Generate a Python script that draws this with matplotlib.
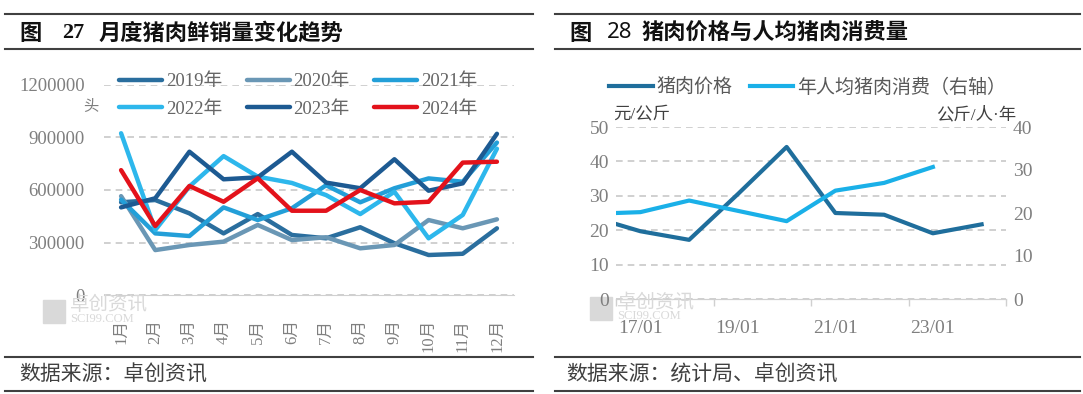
import matplotlib.pyplot as plt
from matplotlib.lines import Line2D
from matplotlib.patches import Rectangle

plt.rcParams['font.family'] = ['Liberation Serif', 'Noto Sans CJK SC']

# 图27 月度猪肉鲜销量（头）
months = ['1月', '2月', '3月', '4月', '5月', '6月', '7月', '8月', '9月', '10月', '11月', '12月']
sales_2019 = [530000, 543000, 467000, 353000, 463000, 344000, 325000, 388000, 297000, 230000, 237000, 382000]
sales_2020 = [565000, 258000, 287000, 306000, 401000, 315000, 331000, 268000, 287000, 429000, 382000, 433000]
sales_2021 = [545000, 353000, 338000, 501000, 429000, 496000, 627000, 530000, 610000, 666000, 647000, 870000]
sales_2022 = [923000, 372000, 620000, 793000, 676000, 640000, 571000, 463000, 590000, 325000, 458000, 835000]
sales_2023 = [501000, 553000, 818000, 661000, 672000, 818000, 642000, 610000, 775000, 596000, 638000, 920000]
sales_2024 = [713000, 395000, 623000, 533000, 667000, 482000, 482000, 600000, 524000, 533000, 756000, 761000]
year_names = ['2019年', '2020年', '2021年', '2022年', '2023年', '2024年']
year_colors = ['#2A6E9E', '#6A97B5', '#239FD8', '#2DB7EC', '#1D5A92', '#E3121B']

# 图28 猪肉价格与人均猪肉消费量
price_x = [2016.5, 2017, 2018, 2019, 2020, 2021, 2022, 2023, 2024]
price = [21.8, 19.7, 17.2, 30.5, 44.2, 25.0, 24.5, 19.1, 21.7]
consume_x = [2016.5, 2017, 2018, 2019, 2020, 2021, 2022, 2023]
consume = [20.0, 20.2, 22.9, 20.5, 18.1, 25.2, 27.0, 30.7]
date_ticks = [2017, 2019, 2021, 2023]
date_labels = ['17/01', '19/01', '21/01', '23/01']

W, H = 1083, 394
fig = plt.figure(figsize=(W / 100, H / 100), dpi=100)


def fx(px):
    return px / W


def fy(py):
    return 1 - py / H


def hline(x0, x1, y, lw=1.5):
    fig.add_artist(Line2D([fx(x0), fx(x1)], [fy(y), fy(y)], transform=fig.transFigure,
                          color='#404040', lw=lw))


grid_kw = dict(color='#c8c8c8', lw=1.2, ls=(0, (4, 3)))
tick_grey = '#7f7f7f'

# ---------- left chart ----------
ax1 = fig.add_axes([fx(104), fy(295.4), fx(514) - fx(104), fy(84.6) - fy(295.4)])
series = [sales_2019, sales_2020, sales_2021, sales_2022, sales_2023, sales_2024]
xs = list(range(1, 13))
handles = []
for vals, name, c in zip(series, year_names, year_colors):
    h, = ax1.plot(xs, vals, color=c, lw=3.2, solid_joinstyle='round', solid_capstyle='round', label=name)
    handles.append(h)
ax1.set_xlim(0.5, 12.5)
ax1.set_ylim(0, 1200000)
ax1.set_yticks([0, 300000, 600000, 900000, 1200000])
ax1.set_yticklabels(['0', '300000', '600000', '900000', '1200000'])
ax1.set_xticks(xs)
ax1.set_xticklabels(months, rotation=90)
ax1.yaxis.grid(True, **grid_kw)
ax1.set_axisbelow(True)
for s in ['top', 'right', 'left']:
    ax1.spines[s].set_visible(False)
ax1.spines['bottom'].set_color('#d0d0d0')
ax1.tick_params(axis='y', length=0, labelcolor=tick_grey, labelsize=13.5, pad=14)
ax1.tick_params(axis='x', length=0, labelcolor=tick_grey, labelsize=12, pad=17)

order = [0, 3, 1, 4, 2, 5]
ax1.legend([handles[i] for i in order], [year_names[i] for i in order], ncol=3,
           loc='upper left', bbox_to_anchor=(fx(119), fy(73)), bbox_transform=fig.transFigure,
           frameon=False, fontsize=13.5, labelcolor='#666666', handlelength=2.3,
           handletextpad=0.2, columnspacing=1.3, labelspacing=0.55, borderpad=0, borderaxespad=0)
fig.text(fx(91), fy(107), '头', ha='center', va='center', color=tick_grey, fontsize=11,
         family=['Noto Sans CJK SC'])

# ---------- right chart ----------
ax2 = fig.add_axes([fx(616), fy(299), fx(1006) - fx(616), fy(127) - fy(299)])
l1, = ax2.plot(price_x, price, color='#1F6E9C', lw=3, solid_joinstyle='round', label='猪肉价格')
ax3 = ax2.twinx()
l2, = ax3.plot(consume_x, consume, color='#1AB0E8', lw=3, solid_joinstyle='round', label='年人均猪肉消费（右轴）')
ax2.set_xlim(2016.5, 2024.5)
ax2.set_ylim(0, 50)
ax3.set_ylim(0, 40)
ax2.set_yticks([0, 10, 20, 30, 40, 50])
ax3.set_yticks([0, 10, 20, 30, 40])
ax2.set_xticks(date_ticks)
ax2.set_xticklabels(date_labels)
ax2.set_xticks([t - 0.5 for t in date_ticks] + [date_ticks[-1] + 1.5], minor=True)
ax2.yaxis.grid(True, **grid_kw)
ax2.set_axisbelow(True)
for a in (ax2, ax3):
    for s in ['top', 'right', 'left']:
        a.spines[s].set_visible(False)
    a.spines['bottom'].set_color('#d0d0d0')
ax2.tick_params(axis='y', length=0, labelcolor=tick_grey, labelsize=14, pad=5)
ax3.tick_params(axis='y', length=0, labelcolor=tick_grey, labelsize=14, pad=5)
ax2.tick_params(axis='x', which='major', length=0, labelcolor=tick_grey, labelsize=14, pad=15)
ax2.tick_params(axis='x', which='minor', length=5, color='#d0d0d0', width=1)

ax2.legend([l1, l2], ['猪肉价格', '年人均猪肉消费（右轴）'], ncol=2, loc='center left',
           bbox_to_anchor=(fx(609), fy(87)), bbox_transform=fig.transFigure, frameon=False,
           prop={'family': ['Noto Sans CJK SC'], 'size': 13.7}, labelcolor='#595959',
           handlelength=2.3, handletextpad=0.2, columnspacing=0.9, borderpad=0, borderaxespad=0)
unit_font = ['Liberation Serif', 'Noto Sans CJK SC']
fig.text(fx(613), fy(115), '元/公斤', ha='left', va='center', color='#404040', fontsize=12.5,
         family=unit_font)
fig.text(fx(1016), fy(115), '公斤/人·年', ha='right', va='center', color='#404040', fontsize=12.5,
         family=unit_font)

# ---------- titles, rules, sources ----------
for x0, x1 in [(5, 533), (555, 1080)]:
    hline(x0, x1, 14)
    hline(x0, x1, 49)
    hline(x0, x1, 357)
    hline(x0, x1, 391)

title_kw = dict(va='center', ha='left', fontsize=16, fontweight='bold', color='#111111')
fig.text(fx(19), fy(33), '图', family=['Noto Sans CJK SC'], **title_kw)
fig.text(fx(62), fy(33), '27', family=['Liberation Serif'], **title_kw)
fig.text(fx(99), fy(33), '月度猪肉鲜销量变化趋势', family=['Noto Sans CJK SC'], **title_kw)
fig.text(fx(569), fy(33), '图', family=['Noto Sans CJK SC'], **title_kw)
fig.text(fx(607), fy(33), '28', family=['Noto Sans', 'Noto Sans CJK SC'], **title_kw)
fig.text(fx(642), fy(33), '猪肉价格与人均猪肉消费量', family=['Noto Sans CJK SC'], **title_kw)

src_kw = dict(va='center', ha='left', fontsize=15, color='#404040', family=['Noto Sans CJK SC'])
fig.text(fx(19), fy(375), '数据来源：卓创资讯', **src_kw)
fig.text(fx(566), fy(375), '数据来源：统计局、卓创资讯', **src_kw)

# watermarks
wm = '#d9d9d9'
for dx, dy in [(0, 0), (547, -3)]:
    fig.add_artist(Rectangle((fx(43 + dx), fy(323 + dy)), fx(22), fy(300) - fy(323),
                             transform=fig.transFigure, color=wm, zorder=0))
    fig.text(fx(70 + dx), fy(305 + dy), '卓创资讯', ha='left', va='center', color=wm, fontsize=14,
             family=['Noto Sans CJK SC'], zorder=0)
    fig.text(fx(70 + dx), fy(319 + dy), 'SCI99.COM', ha='left', va='center', color=wm, fontsize=9,
             family=['Liberation Serif'], zorder=0)

fig.savefig('out.png', dpi=100)
